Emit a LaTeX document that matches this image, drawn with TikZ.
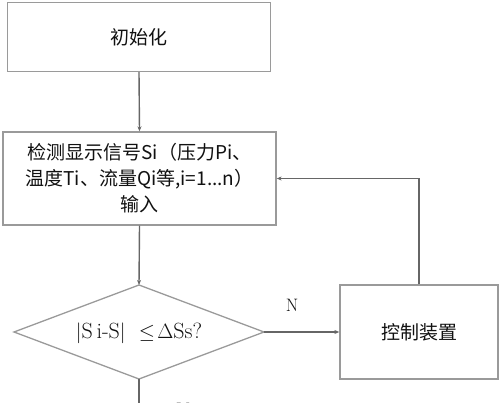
\documentclass[tikz,border=0pt]{standalone}
\usepackage{fontspec}
\newfontfamily\cjk{Noto Sans CJK SC}
\usetikzlibrary{arrows.meta}
\definecolor{edgegray}{HTML}{9A9A9A}
\definecolor{linegray}{HTML}{666666}
\definecolor{txt}{HTML}{111111}
\tikzset{
  box/.style={draw=edgegray, line width=1.3pt, fill=white, inner sep=0pt, text=txt,
    font=\cjk\fontsize{19}{26}\selectfont, align=center},
  arr/.style={draw=linegray, line width=1.4pt, -{Stealth[length=5pt,width=4pt]}},
  ln/.style={draw=linegray, line width=1.4pt},
  lbl/.style={text=txt, font=\fontsize{18}{20}\selectfont, inner sep=0pt}
}
\begin{document}
\begin{tikzpicture}[x=1pt,y=-1pt]
\useasboundingbox (0,0) rectangle (500,403);
\clip (0,0) rectangle (500,403);
\node[box, minimum width=263pt, minimum height=69pt] (init) at (139,37) {初始化};
\node[box, minimum width=273pt, minimum height=93pt] (sig) at (139.5,178.5)
  {检测显示信号Si（压力Pi、\\温度Ti、流量Qi等,i=1...n）\\输入};
\node[box, minimum width=158pt, minimum height=94pt] (ctrl) at (419,332) {控制装置};
\coordinate (dt) at (139,285);
\coordinate (dr) at (264,332);
\coordinate (db) at (139,379);
\coordinate (dl) at (14,332);
\draw[draw=edgegray, line width=1.3pt] (dt) -- (dr) -- (db) -- (dl) -- cycle;
\node[text=txt, font=\fontsize{22}{24}\selectfont, inner sep=0pt] (cond) at (139,333)
  {$|$S\,i-S$|$\ \ $\leq\!\Delta$Ss?};
\coordinate (yend) at (139,410);
\draw[arr] (init.south) -- (sig.north);
\draw[arr] (sig.south) -- (dt);
\draw[arr] (dr) -- (ctrl.west);
\draw[arr] (ctrl.north) |- (sig.east);
\draw[ln] (db) -- (yend);
\node[lbl] (nlab) at (292,305) {N};
\node[lbl] (ylab) at (183,409) {Y};
\end{tikzpicture}
\end{document}
